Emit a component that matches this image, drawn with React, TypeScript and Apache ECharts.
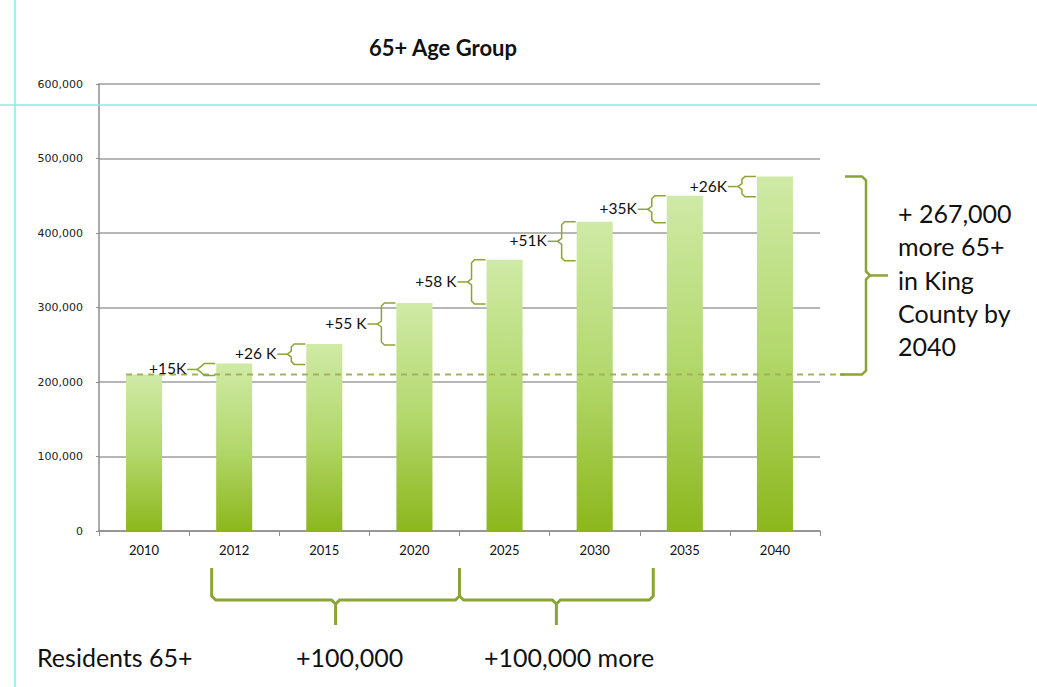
import React, { useEffect, useRef } from "react";
import * as echarts from "echarts";

const chartTitle = "65+ Age Group";
const years = ["2010", "2012", "2015", "2020", "2025", "2030", "2035", "2040"];
const residents = [210000, 225000, 251000, 306000, 364000, 415000, 450000, 476000];
const stepLabels = ["+15K", "+26 K", "+55 K", "+58 K", "+51K", "+35K", "+26K"];
const totalLines = ["+ 267,000", "more 65+", "in King", "County by", "2040"];
const bottomLabels = ["Residents 65+", "+100,000", "+100,000 more"];
const yMax = 600000;
const yInterval = 100000;

const FONT = "Lato, 'Open Sans', sans-serif";
const BRACE = "#8ba535";

export default function App() {
  const ref = useRef<HTMLDivElement>(null);
  useEffect(() => {
    if (!ref.current) return;
    const chart = echarts.init(ref.current, undefined, { renderer: "svg" });
    chart.setOption({
      animation: false,
      backgroundColor: "#ffffff",
      grid: { left: 99, right: 217, top: 84, bottom: 156, containLabel: false },
      xAxis: {
        type: "category",
        data: years,
        boundaryGap: true,
        axisLine: { show: true, lineStyle: { color: "#8c8c8c", width: 1.5 } },
        axisTick: { show: true, length: 5, alignWithLabel: false, lineStyle: { color: "#8c8c8c" } },
        axisLabel: { margin: 12, fontSize: 13, color: "#111", fontFamily: FONT },
        splitLine: { show: false },
      },
      yAxis: {
        type: "value",
        min: 0,
        max: yMax,
        interval: yInterval,
        axisLine: { show: true, lineStyle: { color: "#8c8c8c", width: 1.5 } },
        axisTick: { show: true, length: 3, lineStyle: { color: "#8c8c8c" } },
        axisLabel: {
          margin: 16,
          fontSize: 11,
          color: "#222",
          fontFamily: "'DejaVu Sans', sans-serif",
          formatter: (v: number) => v.toLocaleString("en-US"),
        },
        splitLine: { show: true, lineStyle: { color: "#9e9e9e", width: 1.5 } },
      },
      series: [
        {
          type: "bar",
          data: residents,
          barWidth: "40%",
          itemStyle: {
            color: new echarts.graphic.LinearGradient(0, 0, 0, 1, [
              { offset: 0, color: "#cfeaa6" },
              { offset: 0.5, color: "#b3d86c" },
              { offset: 1, color: "#8cb71c" },
            ]),
          },
        },
      ],
    });

    const px = (i: number, v: number) => chart.convertToPixel({ gridIndex: 0 }, [i, v]) as number[];
    const step = px(1, 0)[0] - px(0, 0)[0];
    const barW = step * 0.4;
    const g: any[] = [];

    // guide lines (cyan)
    g.push({ type: "line", shape: { x1: 15, y1: 0, x2: 15, y2: 687 }, style: { stroke: "#84efe2", lineWidth: 1.5 }, z: 1 });
    g.push({ type: "line", shape: { x1: 0, y1: 105, x2: 1037, y2: 105 }, style: { stroke: "#84efe2", lineWidth: 1.5 }, z: 1 });

    // title
    g.push({
      type: "text",
      style: { text: chartTitle, x: 443, y: 47, align: "center", verticalAlign: "middle", font: `bold 22px ${FONT}`, fill: "#111" },
    });

    // dashed baseline at 2010 level
    const baseY = px(0, residents[0])[1];
    const gridRight = px(years.length - 1, 0)[0] + step / 2;
    g.push({
      type: "line",
      shape: { x1: px(0, 0)[0] - barW / 2, y1: baseY, x2: gridRight + 25, y2: baseY },
      style: { stroke: "#a2b25a", lineWidth: 2, lineDash: [6, 5] },
      z: 10,
    });

    // step braces
    for (let i = 1; i < residents.length; i++) {
      const cx = px(i, 0)[0];
      const topY = px(i, residents[i])[1];
      const botY = px(i - 1, residents[i - 1])[1] + 1;
      const xr = cx - barW / 2 - 1;
      const xv = xr - 14;
      const mid = (topY + botY) / 2;
      g.push({
        type: "polyline",
        shape: {
          points: [
            [xr, topY], [xv + 3, topY], [xv, topY + 3], [xv, mid - 3], [xv - 4, mid],
            [xv, mid + 3], [xv, botY - 3], [xv + 3, botY], [xr, botY],
          ],
        },
        style: { stroke: BRACE, lineWidth: 1.5, fill: null },
        z: 10,
      });
      g.push({
        type: "line",
        shape: { x1: xv - 4, y1: mid, x2: xv - 14, y2: mid },
        style: { stroke: BRACE, lineWidth: 1.5 },
        z: 10,
      });
      g.push({
        type: "text",
        style: { text: stepLabels[i - 1], x: xv - 15, y: mid - 1, align: "right", verticalAlign: "middle", font: `15.5px ${FONT}`, fill: "#111" },
        z: 10,
      });
    }

    // big right brace
    const bigTop = px(residents.length - 1, residents[residents.length - 1])[1];
    const bigBot = baseY;
    const bx0 = gridRight + 25;
    const bxv = bx0 + 21;
    const bmid = (bigTop + bigBot) / 2;
    g.push({
      type: "polyline",
      shape: {
        points: [
          [bx0, bigTop], [bxv - 4, bigTop], [bxv, bigTop + 4], [bxv, bmid - 4], [bxv + 4, bmid],
          [bxv, bmid + 4], [bxv, bigBot - 4], [bxv - 4, bigBot], [bx0 - 5, bigBot],
        ],
      },
      style: { stroke: BRACE, lineWidth: 2.5, fill: null },
      z: 10,
    });
    g.push({ type: "line", shape: { x1: bxv + 4, y1: bmid, x2: bxv + 22, y2: bmid }, style: { stroke: BRACE, lineWidth: 2.5 }, z: 10 });
    totalLines.forEach((t, k) => {
      g.push({
        type: "text",
        style: { text: t, x: 898, y: 213 + k * 33.3, align: "left", verticalAlign: "middle", font: `25px ${FONT}`, fill: "#111" },
      });
    });

    // bottom braces
    const L = px(1, 0)[0] - 0.25 * step;
    const J = px(4, 0)[0] - 0.5 * step;
    const R = px(6, 0)[0] - 0.35 * step;
    const M1 = (L + J) / 2;
    const M2 = (J + R) / 2;
    const t0 = 568, ly = 600, tb = 625;
    g.push({
      type: "polyline",
      shape: {
        points: [
          [L, t0], [L, ly - 4], [L + 4, ly], [M1 - 4, ly], [M1, ly + 4], [M1, tb],
        ],
      },
      style: { stroke: BRACE, lineWidth: 3, fill: null },
    });
    g.push({
      type: "polyline",
      shape: {
        points: [
          [M1, ly + 4], [M1 + 4, ly], [J - 4, ly], [J, ly - 4], [J, t0], [J, ly - 4], [J + 4, ly],
          [M2 - 4, ly], [M2, ly + 4], [M2, tb],
        ],
      },
      style: { stroke: BRACE, lineWidth: 3, fill: null },
    });
    g.push({
      type: "polyline",
      shape: { points: [[M2, ly + 4], [M2 + 4, ly], [R - 4, ly], [R, ly - 4], [R, t0]] },
      style: { stroke: BRACE, lineWidth: 3, fill: null },
    });
    const bottomX = [37, 296, 484];
    bottomLabels.forEach((t, k) => {
      g.push({
        type: "text",
        style: { text: t, x: bottomX[k], y: 657, align: "left", verticalAlign: "middle", font: `25px ${FONT}`, fill: "#111" },
      });
    });

    chart.setOption({ graphic: g });
    return () => chart.dispose();
  }, []);
  return <div ref={ref} style={{ position: "absolute", left: 0, top: 0, width: 1037, height: 687 }} />;
}
